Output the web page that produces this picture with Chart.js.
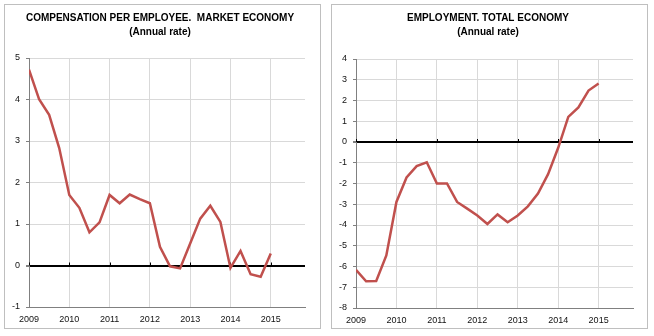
<!DOCTYPE html>
<html><head><meta charset="utf-8">
<script src="https://cdn.jsdelivr.net/npm/chart.js@4/dist/chart.umd.min.js"></script>
<style>
body{margin:0;background:#fff;width:654px;height:336px;position:relative;overflow:hidden}
.panel{position:absolute;top:4px;width:317px;height:325px;box-sizing:border-box;border:1px solid #bfbfbf;background:#fff}
canvas{display:block}
</style></head><body>
<div class="panel" style="left:4px"><canvas id="c1" width="315" height="323"></canvas></div>
<div class="panel" style="left:331px"><canvas id="c2" width="315" height="323"></canvas></div>
<script>
// Quarterly periods 2009Q1 .. 2015Q1
const quarters = ['2009Q1','2009Q2','2009Q3','2009Q4','2010Q1','2010Q2','2010Q3','2010Q4',
  '2011Q1','2011Q2','2011Q3','2011Q4','2012Q1','2012Q2','2012Q3','2012Q4',
  '2013Q1','2013Q2','2013Q3','2013Q4','2014Q1','2014Q2','2014Q3','2014Q4','2015Q1'];
const yearTicks = [2009, 2010, 2011, 2012, 2013, 2014, 2015];
// Compensation per employee, market economy (annual rate, %)
const compensation = [4.72, 4.01, 3.63, 2.83, 1.70, 1.39, 0.80, 1.04,
  1.70, 1.50, 1.71, 1.60, 1.50, 0.45, -0.02, -0.07,
  0.53, 1.13, 1.44, 1.05, -0.06, 0.35, -0.21, -0.27, 0.29];
// Employment, total economy (annual rate, %)
const employment = [-6.16, -6.71, -6.70, -5.47, -2.89, -1.71, -1.16, -0.98,
  -2.00, -2.00, -2.89, -3.21, -3.54, -3.95, -3.49, -3.87,
  -3.54, -3.10, -2.48, -1.55, -0.28, 1.21, 1.67, 2.48, 2.82];
const titles = ['COMPENSATION PER EMPLOYEE.  MARKET ECONOMY', 'EMPLOYMENT. TOTAL ECONOMY'];
const subtitle = '(Annual rate)';

const FONT = "'Liberation Sans', Arial, Helvetica, sans-serif";
function toTime(q){ return +q.slice(0,4) + (+q.slice(5) - 1) / 4; }

const zeroTicks = {
  id: 'zeroTicks',
  beforeDatasetsDraw(chart){
    const x = chart.scales.x, y = chart.scales.y;
    const y0 = y.getPixelForValue(0);
    const ctx = chart.ctx;
    ctx.save();
    ctx.strokeStyle = '#000';
    ctx.lineWidth = 1;
    yearTicks.forEach(v => {
      const px = Math.round(x.getPixelForValue(v)) + 0.5;
      ctx.beginPath(); ctx.moveTo(px, y0 - 3); ctx.lineTo(px, y0); ctx.stroke();
    });
    ctx.restore();
  }
};

function makeChart(id, title, values, yMin, yMax, subPad, xHeight, padRight, spacerW){
  const data = quarters.map((q, i) => ({x: toTime(q), y: values[i]}));
  return new Chart(document.getElementById(id), {
    type: 'line',
    data: { datasets: [{ data, borderColor: '#c0504d', borderWidth: 2.5, pointRadius: 0, tension: 0, fill: false }] },
    plugins: [zeroTicks],
    options: {
      responsive: false, animation: false,
      layout: { padding: { left: 0, right: padRight, top: 0, bottom: 0 } },
      plugins: {
        legend: { display: false }, tooltip: { enabled: false },
        title: { display: true, text: title, color: '#000', font: { family: FONT, size: 10, weight: 'bold' }, padding: { top: 7, bottom: 2 } },
        subtitle: { display: true, text: subtitle, color: '#000', font: { family: FONT, size: 10, weight: 'bold' }, padding: { top: 0, bottom: subPad } }
      },
      scales: {
        x: {
          type: 'linear', min: 2009, max: 2015.85,
          afterFit(s){ s.height = xHeight; },
          ticks: { stepSize: 1, includeBounds: false, padding: 7, maxRotation: 0, color: '#111', font: { family: FONT, size: 9 }, callback: v => String(v) },
          grid: { color: '#d9d9d9', lineWidth: 1, drawTicks: false },
          border: { color: '#808080', width: 1 }
        },
        y: {
          min: yMin, max: yMax,
          afterFit(s){ s.width = 24; },
          ticks: { stepSize: 1, padding: 6, color: '#111', font: { family: FONT, size: 9 }, callback: v => String(v) },
          grid: { color: c => c.tick && c.tick.value === 0 ? '#000' : '#d9d9d9', lineWidth: c => c.tick && c.tick.value === 0 ? 2 : 1, tickLength: 3, tickColor: '#808080' },
          border: { color: '#808080', width: 1 }
        },
        spacer: {
          type: 'linear', position: 'right', min: 0, max: 1,
          afterFit(s){ s.width = spacerW; },
          ticks: { display: false }, grid: { display: false }, border: { display: false }
        }
      }
    }
  });
}
makeChart('c1', titles[0], compensation, -1, 5, 20, 21, 5, 10);
makeChart('c2', titles[1], employment, -8, 4, 21, 20, 3, 11);
</script>
</body></html>
